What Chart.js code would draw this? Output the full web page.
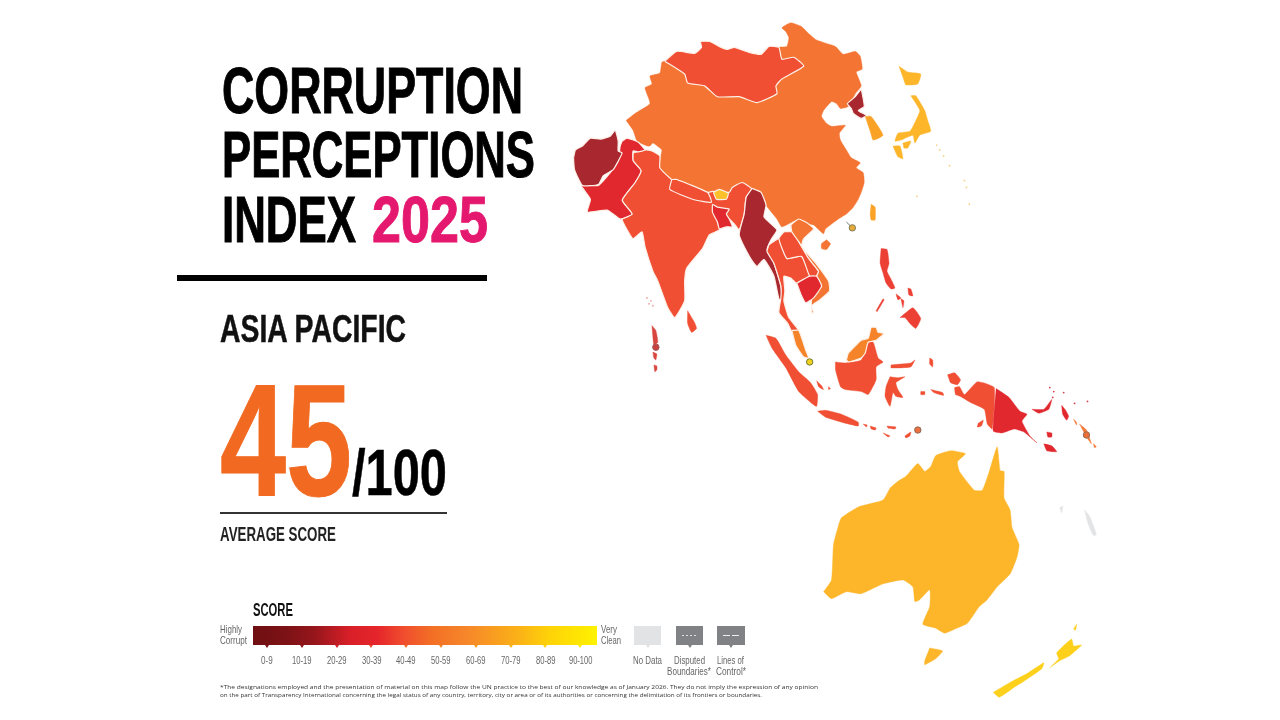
<!DOCTYPE html>
<html>
<head>
<meta charset="utf-8">
<title>Corruption Perceptions Index 2025 - Asia Pacific</title>
<script src="https://cdn.jsdelivr.net/npm/chart.js@4/dist/chart.umd.min.js"></script>
<style>
  html, body { margin: 0; padding: 0; background: #fff; }
  #page { position: relative; width: 1280px; height: 720px; overflow: hidden; }
  #map { position: absolute; left: 0; top: 0; }
  .t { position: absolute; white-space: nowrap; line-height: 1; transform-origin: 0 0;
       font-family: "Liberation Sans", sans-serif; }
  .box { position: absolute; }
</style>
</head>
<body>
<div id="page"><canvas id="map" width="1280" height="720"></canvas></div>
<script>
// score band colours used on the map
const bandColors = { dark: '#a92830', red: '#e1282f', redOrange: '#f04f33', orange: '#f47533', amber: '#f9a226', gold: '#fdb62a', yellow: '#fdd01c', grey: '#e3e4e5' };

// outlines, in map units
const china = [[626,117],[635,110],[650,100],[645,84],[652,80],[650,72],[660,69],[662,58],[665,57],[685,70],[688,79],[705,82],[718,93],[740,93],[758,99],[778,90],[777,82],[783,75],[805,62],[795,53],[783,55],[780,43],[788,42],[790,33],[787,27],[783,23],[792,18],[803,22],[810,29],[817,35],[828,39],[837,42],[845,50],[857,47],[862,52],[864,65],[858,68],[863,82],[857,90],[850,103],[842,105],[838,100],[833,98],[825,107],[823,113],[828,120],[833,123],[847,122],[841,130],[842,137],[848,147],[853,155],[862,160],[858,165],[865,170],[866,180],[863,190],[860,197],[855,205],[848,212],[840,217],[827,227],[825,232],[815,223],[810,222],[800,217],[783,225],[778,217],[767,203],[762,190],[753,186],[743,180],[733,185],[730,190],[713,189],[708,190],[677,177],[672,177],[660,165],[661,153],[662,147],[653,140],[650,143],[647,143],[637,138],[633,127]];
const mongolia = [[665,57],[677,47],[695,49],[702,43],[701,37],[710,37],[722,43],[728,45],[735,43],[750,48],[762,50],[770,42],[780,43],[783,55],[795,53],[805,62],[783,75],[777,82],[778,90],[758,99],[740,93],[718,93],[705,82],[688,79],[685,70]];
const afghanistan = [[573,155],[575,147],[582,143],[590,135],[600,136],[610,133],[615,127],[618,138],[618,148],[622,150],[613,167],[603,173],[598,182],[582,183],[574,167]];
const pakistan = [[622,138],[627,135],[638,139],[645,147],[638,149],[633,148],[633,158],[641,168],[635,180],[622,198],[632,212],[620,217],[607,208],[587,210],[590,197],[581,183],[598,183],[610,170],[618,158],[620,143]];
const india = [[633,150],[645,147],[652,148],[660,153],[660,165],[672,177],[677,177],[708,190],[713,189],[730,190],[733,185],[743,180],[753,187],[747,195],[745,212],[740,228],[735,222],[730,217],[725,212],[718,218],[720,228],[710,233],[703,247],[687,267],[685,280],[685,300],[675,317],[668,307],[658,280],[653,270],[645,245],[642,230],[633,237],[627,228],[622,217],[632,212],[622,198],[635,180],[641,168],[633,158]];
const nepal = [[672,177],[677,177],[708,190],[712,200],[693,197],[670,187]];
const bhutan = [[714,190],[720,187],[729,191],[727,197],[717,197]];
const bangladesh = [[713,202],[718,205],[730,207],[727,212],[730,217],[733,225],[727,225],[720,227],[718,220],[713,210]];
const myanmar = [[753,186],[762,190],[767,203],[765,215],[778,228],[772,238],[768,248],[775,262],[782,285],[783,300],[780,298],[775,275],[765,258],[758,265],[752,258],[740,233],[745,212],[747,195]];
const thailand = [[770,243],[780,237],[788,257],[803,255],[811,275],[798,282],[792,277],[785,275],[786,290],[785,300],[790,317],[800,330],[793,331],[789,323],[780,312],[782,297],[782,285],[775,262],[768,250]];
const laos = [[785,230],[793,230],[800,240],[810,257],[820,270],[818,275],[811,275],[803,255],[788,257],[780,237]];
const vietnam = [[792,223],[800,217],[810,222],[815,227],[805,237],[803,245],[818,263],[830,280],[831,290],[820,300],[813,305],[815,312],[813,312],[813,298],[823,285],[818,275],[820,270],[810,257],[800,240],[793,230]];
const cambodia = [[798,282],[811,275],[818,275],[823,285],[815,297],[807,302],[802,293]];
const malaysiaWest = [[793,330],[800,330],[807,350],[810,358],[805,357],[797,345]];
const malaysiaEast = [[848,360],[850,353],[863,340],[870,338],[873,327],[878,327],[880,332],[886,333],[878,340],[870,342],[867,353],[863,358],[850,362]];
const borneo = [[837,362],[847,363],[863,360],[868,343],[875,342],[880,358],[885,362],[878,367],[878,380],[870,395],[863,392],[847,390],[842,387],[837,370]];
const sumatra = [[767,335],[777,338],[787,355],[800,372],[812,383],[819,395],[818,407],[812,403],[800,392],[787,368],[773,348]];
const java = [[819,412],[827,411],[843,415],[860,423],[860,427],[843,423],[827,418]];
const sulawesi = [[892,377],[900,378],[907,377],[898,383],[900,390],[905,398],[898,397],[895,393],[892,407],[887,397],[888,387]];
const sulawesiNorth = [[893,365],[913,363],[917,360],[913,367],[893,368]];
const papuaHead = [[950,375],[957,373],[963,380],[960,385],[953,383]];
const papua = [[957,388],[962,387],[967,395],[980,382],[997,388],[995,430],[990,425],[987,410],[973,403],[963,397],[958,395]];
const lesserSunda = [[[865,425],[869,426],[868,428]],[[872,427],[878,429],[877,431],[873,430]],[[889,427],[898,428],[897,430],[890,429]],[[885,434],[892,437],[890,438]],[[907,437],[913,433],[912,437],[908,439]],[[933,390],[945,393],[946,396],[936,393]],[[923,392],[927,392],[927,395],[923,395]],[[932,358],[935,360],[935,367],[932,364]],[[981,424],[986,421],[984,427],[980,428]],[[818,381],[823,386],[825,390],[820,387]],[[830,387],[832,389],[830,390]]];
const png = [[999,389],[1012,398],[1023,412],[1030,415],[1025,422],[1033,437],[1040,444],[1027,433],[1017,430],[1005,434],[996,432]];
const pngIslands = [[[1035,410],[1047,410],[1055,400],[1052,410],[1042,414]],[[1050,433],[1055,434],[1055,438],[1051,438]]];
const bougainville = [[1065,406],[1069,411],[1072,417],[1070,421],[1066,415]];
const solomon = [[[1047,445],[1055,447],[1060,453],[1050,452]]];
const vanuatu = [[[1077,420],[1080,423],[1080,426]],[[1083,425],[1090,431],[1095,445],[1090,438]],[[1097,445],[1100,448],[1098,449]]];
const philippines = [[[883,247],[889,248],[891,262],[889,270],[893,278],[897,287],[893,288],[888,282],[885,272],[882,262]],[[902,317],[915,307],[923,318],[918,328],[912,323],[907,317]],[[898,293],[903,297],[900,299]],[[903,298],[906,300],[905,307]],[[910,287],[913,288],[915,295],[911,294]],[[878,310],[885,298],[886,299],[879,311]]];
const sriLanka = [[688,310],[695,322],[697,328],[692,332],[688,323]];
const maldives = [[[652,325],[656,330],[658,342],[654,345]],[[653,352],[657,354],[656,360],[654,358]],[[654,365],[657,366],[657,370],[655,372]]];
const taiwan = [[873,202],[877,205],[877,218],[873,218],[872,212]];
const hainan = [[828,238],[832,242],[828,248],[823,247],[823,242]];
const northKorea = [[863,85],[866,103],[860,107],[868,112],[863,115],[855,110],[853,105],[849,100],[857,93]];
const southKorea = [[867,113],[873,113],[885,132],[875,137],[872,128]];
const japan = [[[901,62],[910,68],[923,70],[920,80],[908,81],[905,73]],[[913,92],[918,92],[927,107],[930,117],[933,128],[922,132],[917,140],[915,132],[903,137],[897,138],[900,130],[912,128],[918,117],[922,107]],[[895,143],[902,143],[905,156],[900,154],[897,148]],[[905,140],[913,138],[910,145],[906,145]]];
const japanDots = [[939,142],[942,147],[946,153],[952,163],[967,178],[969,185],[972,202],[919,194]];
const melanesiaDots = [[1053,388],[1057,392],[1067,393],[1078,404],[1091,402],[1056,398]];
const lakshadweepDots = [[647,297],[651,300],[653,305],[649,303]];
const australia = [[825,595],[833,583],[835,547],[840,528],[843,520],[860,509],[885,502],[892,490],[900,483],[908,478],[920,465],[927,473],[933,468],[938,457],[953,452],[968,455],[960,463],[962,473],[977,492],[985,492],[992,473],[1000,448],[1003,472],[1007,473],[1007,500],[1013,512],[1015,530],[1022,547],[1020,560],[1013,577],[1000,590],[990,603],[982,610],[970,627],[957,633],[947,637],[938,632],[925,628],[932,610],[932,593],[922,603],[917,605],[915,590],[905,583],[885,587],[863,597],[848,595],[833,602]];
const tasmania = [[932,652],[945,655],[938,663],[927,669],[927,665]];
const newZealand = [[[996,697],[1013,687],[1030,678],[1047,667],[1045,673],[1028,685],[1017,692],[1002,702]],[[1053,672],[1062,663],[1060,657],[1075,643],[1077,650],[1085,649],[1073,660],[1063,665]],[[1077,633],[1080,628],[1079,634]]];
const noData = [[[1088,512],[1093,518],[1100,537],[1097,538],[1092,527]],[[1063,510],[1066,508],[1065,515]]];

// small territories shown as circles on the map
const markerHK = [[854,226]];
const markerSG = [[811,362]];
const markerTL = [[920,431]];
const markerVU = [[1090,436]];
const markerMV = [[656,347]];
const hkLeader = [[848,220],[854,226]];

// legend and text
const scoreBands = ['0-9','10-19','20-29','30-39','40-49','50-59','60-69','70-79','80-89','90-100'];
const bandTickColors = ['#7d1216','#96161b','#d81f28','#ee4a30','#f36f25','#f6862a','#f89d1c','#fbb416','#fed208','#fff200'];
const titleLines = ['CORRUPTION','PERCEPTIONS','INDEX'];
const footnote = ['*The designations employed and the presentation of material on this map follow the UN practice to the best of our knowledge as of January 2026. They do not imply the expression of any opinion','on the part of Transparency International concerning the legal status of any country, territory, city or area or of its authorities or concerning the delimitation of its frontiers or boundaries.'];

const datasets = [];

function addShape(points, color, border) {
  const closed = points.concat([points[0]]).map(p => ({ x: p[0], y: p[1] }));
  datasets.push({
    data: closed,
    showLine: true,
    fill: 'shape',
    tension: 0.15,
    backgroundColor: color,
    borderColor: border ? '#fdf0e8' : color,
    borderWidth: border ? 1.2 : 0.4,
    pointRadius: 0,
    order: -datasets.length
  });
}

function addMarker(points, fill, edge) {
  datasets.push({
    data: points.map(p => ({ x: p[0], y: p[1] })),
    showLine: false,
    pointRadius: 3.2,
    pointBackgroundColor: fill,
    pointBorderColor: edge,
    pointBorderWidth: 1,
    order: -datasets.length
  });
}

function addDots(points, color) {
  datasets.push({
    data: points.map(p => ({ x: p[0], y: p[1] })),
    showLine: false,
    pointRadius: 0.9,
    pointBackgroundColor: color,
    pointBorderWidth: 0,
    order: -datasets.length
  });
}

addShape(china, bandColors.orange, false);
addShape(india, bandColors.redOrange, true);
addShape(pakistan, bandColors.red, true);
addShape(afghanistan, bandColors.dark, true);
addShape(mongolia, bandColors.redOrange, true);
addShape(nepal, bandColors.redOrange, true);
addShape(bhutan, '#fcc12a', true);
addShape(bangladesh, bandColors.red, true);
addShape(myanmar, bandColors.dark, true);
addShape(thailand, bandColors.redOrange, true);
addShape(laos, bandColors.redOrange, true);
addShape(vietnam, bandColors.orange, true);
addShape(cambodia, bandColors.red, true);
addShape(malaysiaWest, '#f5832a', true);
addShape(borneo, bandColors.redOrange, false);
addShape(malaysiaEast, '#f5832a', true);
[sumatra, java, sulawesi, sulawesiNorth, papuaHead, papua].forEach(s => addShape(s, bandColors.redOrange, false));
lesserSunda.forEach(s => addShape(s, bandColors.redOrange, false));
addShape(png, bandColors.red, false);
addShape(bougainville, bandColors.red, false);
pngIslands.forEach(s => addShape(s, bandColors.red, false));
solomon.forEach(s => addShape(s, bandColors.red, false));
vanuatu.forEach(s => addShape(s, '#f47a3a', false));
philippines.forEach(s => addShape(s, '#ec4034', false));
addShape(sriLanka, bandColors.redOrange, false);
maldives.forEach(s => addShape(s, '#d8473f', false));
addShape(taiwan, bandColors.amber, false);
addShape(hainan, bandColors.orange, false);
addShape(northKorea, bandColors.dark, true);
addShape(southKorea, bandColors.amber, false);
japan.forEach(s => addShape(s, bandColors.gold, false));
addShape(australia, bandColors.gold, false);
addShape(tasmania, bandColors.gold, false);
newZealand.forEach(s => addShape(s, bandColors.yellow, false));
noData.forEach(s => addShape(s, bandColors.grey, false));

addDots(japanDots, '#f6cf85');
addDots(melanesiaDots, '#d8404a');
addDots(lakshadweepDots, '#eda39a');
datasets.push({ data: hkLeader.map(p => ({ x: p[0], y: p[1] })), showLine: true, borderColor: '#6f7a78', borderWidth: 1, pointRadius: 0, order: -datasets.length });
addMarker(markerHK, '#e6a93a', '#7c7c55');
addMarker(markerSG, '#f2d21c', '#6f7a3a');
addMarker(markerTL, '#ec6f3f', '#8f6a5a');
addMarker(markerVU, '#ee6f35', '#8f6a5a');
addMarker(markerMV, '#c9403f', '#a2565a');

new Chart(document.getElementById('map'), {
  type: 'scatter',
  data: { datasets: datasets },
  options: {
    responsive: false,
    animation: false,
    layout: { padding: 0 },
    plugins: { legend: { display: false }, tooltip: { enabled: false } },
    scales: {
      x: { type: 'linear', display: false, min: 0, max: 1280 },
      y: { type: 'linear', display: false, min: 0, max: 720, reverse: true }
    }
  }
});

const page = document.getElementById('page');

// puts a label on its baseline and squeezes it to the wanted width
function label(text, x, baseline, size, width, opts) {
  opts = opts || {};
  const el = document.createElement('div');
  el.className = 't';
  el.textContent = text;
  if (opts.family) el.style.fontFamily = opts.family;
  el.style.fontSize = size + 'px';
  el.style.fontWeight = opts.weight || 'normal';
  el.style.color = opts.color || '#000';
  if (opts.stroke) el.style.webkitTextStroke = opts.stroke + 'px ' + (opts.color || '#000');
  el.style.left = x + 'px';
  el.style.top = (baseline - size * (opts.base || 0.905 - 0.0585)) + 'px';
  page.appendChild(el);
  if (width) el.style.transform = 'scaleX(' + (width / el.getBoundingClientRect().width) + ')';
  return el;
}

function box(x, y, w, h, background) {
  const el = document.createElement('div');
  el.className = 'box';
  el.style.cssText += 'left:' + x + 'px;top:' + y + 'px;width:' + w + 'px;height:' + h + 'px;background:' + background;
  page.appendChild(el);
  return el;
}

function pointer(x, y, color) {
  const el = box(x - 2, y, 0, 0, 'transparent');
  el.style.borderLeft = '2px solid transparent';
  el.style.borderRight = '2px solid transparent';
  el.style.borderTop = '3px solid ' + color;
}

// headline block
label(titleLines[0], 222, 113, 64, 301, { weight: 'bold', stroke: 1 });
label(titleLines[1], 222, 177, 64, 313, { weight: 'bold', stroke: 1 });
label(titleLines[2], 222, 242, 64, 134, { weight: 'bold', stroke: 1 });
label('2025', 372, 242, 64, 116, { weight: 'bold', color: '#e5186f', stroke: 1 });
box(177, 275, 310, 6, '#000');
label('ASIA PACIFIC', 220, 342, 39, 186, { weight: 'bold', color: '#111', stroke: 0.5 });
label('45', 220, 495, 160, 132, { weight: 'bold', color: '#f26a21', stroke: 1 });
label('/100', 352, 495, 65, 95, { weight: 'bold', color: '#000', stroke: 0.5 });
box(220, 512, 227, 1.5, '#333');
label('AVERAGE SCORE', 220, 541, 20, 116, { weight: 'bold', color: '#222' });

// legend
label('SCORE', 253, 616, 18, 40, { weight: 'bold', color: '#111' });
label('Highly', 220, 633, 11, 22, { color: '#666' });
label('Corrupt', 220, 644, 11, 27, { color: '#666' });
box(253, 626, 344, 19, 'linear-gradient(to right,#6f0f12 0%,#7d1216 10%,#96161b 18%,#d81f28 28%,#e5252b 36%,#f04e2e 44%,#f36f25 52%,#f6862a 62%,#fbb416 78%,#fed208 86%,#fff200 100%)');
scoreBands.forEach((band, i) => {
  const cx = 267 + i * 34.8;
  const w = band.length * 3.9;
  pointer(cx, 645, bandTickColors[i]);
  label(band, cx - w / 2, 664, 11, w, { color: '#666' });
});
label('Very', 601, 633, 11, 16, { color: '#666' });
label('Clean', 601, 644, 11, 20, { color: '#666' });

box(634, 626, 27, 19, '#e2e3e4');
pointer(647.5, 645, '#e2e3e4');
label('No Data', 633, 664, 11, 29, { color: '#666' });
box(676, 626, 27, 19, '#808285');
pointer(689.5, 645, '#808285');
box(682, 635, 15, 1, 'repeating-linear-gradient(to right,#ddd 0,#ddd 2px,transparent 2px,transparent 4px)');
label('Disputed', 674, 664, 11, 31, { color: '#666' });
label('Boundaries*', 667, 675, 11, 44, { color: '#666' });
box(717, 626, 28, 19, '#808285');
pointer(731, 645, '#808285');
box(723, 635, 7, 1, '#eee');
box(732, 635, 7, 1, '#eee');
label('Lines of', 717, 664, 11, 27, { color: '#666' });
label('Control*', 716, 675, 11, 30, { color: '#666' });

// footnote
label(footnote[0], 220, 690, 5.6, 598, { family: '"Open Sans", sans-serif', color: '#333', base: 0.888 });
label(footnote[1], 220, 698, 5.6, 542, { family: '"Open Sans", sans-serif', color: '#333', base: 0.888 });
</script>
</body>
</html>
